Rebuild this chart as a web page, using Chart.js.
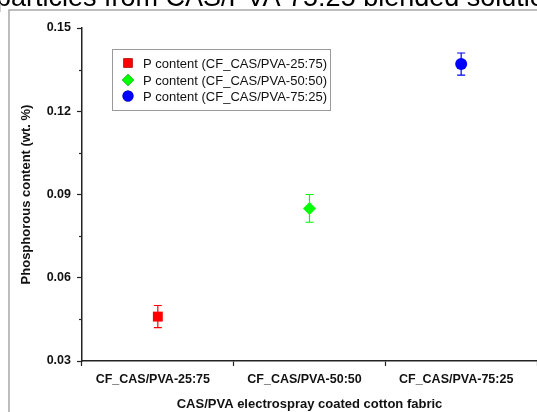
<!DOCTYPE html>
<html>
<head>
<meta charset="utf-8">
<script src="https://cdn.jsdelivr.net/npm/chart.js@4"></script>
<style>
html,body{margin:0;padding:0;background:#fff;overflow:hidden;}
#wrap{width:537px;height:412px;position:relative;}
</style>
</head>
<body>
<div id="wrap"><canvas id="c" width="537" height="412"></canvas></div>
<script>
// ---- data ----
const categories = ["CF_CAS/PVA-25:75", "CF_CAS/PVA-50:50", "CF_CAS/PVA-75:25"];
const seriesNames = ["P content (CF_CAS/PVA-25:75)", "P content (CF_CAS/PVA-50:50)", "P content (CF_CAS/PVA-75:25)"];
const pContent = [0.046, 0.085, 0.137];
const pError = [0.004, 0.005, 0.004];
const yTicks = [0.03, 0.06, 0.09, 0.12, 0.15];
const yMinorTicks = [0.045, 0.075, 0.105, 0.135];
const colors = ["#ff0000", "#00ff00", "#0000ff"];
const shapes = ["rect", "rectRot", "circle"];
const radii = [7, 6.5, 6];
const topText = "particles from CAS/PVA 75:25 blended solution";

const FONT = "'Liberation Sans', Arial, sans-serif";

const datasets = categories.map((c, i) => ({
  label: seriesNames[i],
  data: categories.map((_, j) => j === i ? pContent[i] : null),
  showLine: false,
  pointStyle: shapes[i],
  pointRadius: radii[i],
  pointHoverRadius: radii[i],
  backgroundColor: colors[i],
  borderColor: colors[i],
  borderWidth: 0,
  errors: categories.map((_, j) => j === i ? pError[i] : null)
}));

const decor = {
  id: 'decor',
  beforeDraw(chart) {
    const ctx = chart.ctx;
    ctx.save();
    // frame
    ctx.strokeStyle = '#a8a8a8';
    ctx.lineWidth = 1.5;
    ctx.beginPath();
    ctx.moveTo(9, 420);
    ctx.lineTo(9, 10);
    ctx.lineTo(560, 10);
    ctx.stroke();
    // cut-off heading text
    ctx.fillStyle = '#000';
    ctx.font = "27px " + FONT;
    ctx.textBaseline = 'alphabetic';
    ctx.textAlign = 'left';
    ctx.fillText(topText, -4, 6);
    ctx.restore();
  },
  beforeDatasetsDraw(chart) {
    const ctx = chart.ctx;
    const xs = chart.scales.x, ys = chart.scales.y;
    ctx.save();
    ctx.lineWidth = 1.2;
    chart.data.datasets.forEach(ds => {
      ds.data.forEach((v, j) => {
        if (v == null) return;
        const e = ds.errors[j];
        const x = xs.getPixelForValue(j);
        const yt = ys.getPixelForValue(v + e);
        const yb = ys.getPixelForValue(v - e);
        ctx.strokeStyle = ds.borderColor;
        ctx.beginPath();
        ctx.moveTo(x, yt); ctx.lineTo(x, yb);
        ctx.moveTo(x - 4, yt); ctx.lineTo(x + 4, yt);
        ctx.moveTo(x - 4, yb); ctx.lineTo(x + 4, yb);
        ctx.stroke();
      });
    });
    ctx.restore();
  },
  afterDraw(chart) {
    const ctx = chart.ctx;
    const ys = chart.scales.y;
    const left = chart.chartArea.left;
    ctx.save();
    // minor ticks on y axis
    ctx.strokeStyle = '#222';
    ctx.lineWidth = 1.2;
    yMinorTicks.forEach(v => {
      const y = Math.round(ys.getPixelForValue(v)) + 0.5;
      ctx.beginPath();
      ctx.moveTo(left - 3, y); ctx.lineTo(left, y);
      ctx.stroke();
    });
    // legend box
    const bx = 112.5, by = 49.5, bw = 218, bh = 61;
    ctx.strokeStyle = '#9a9a9a';
    ctx.lineWidth = 1;
    ctx.strokeRect(bx, by, bw, bh);
    const rows = [63, 80, 96];
    chart.data.datasets.forEach((ds, i) => {
      Chart.helpers.drawPoint(ctx, {
        pointStyle: ds.pointStyle, radius: ds.pointRadius - 0.5, rotation: 0, borderWidth: 0
      }, 128, rows[i]);
      ctx.fillStyle = ds.backgroundColor;
      ctx.fill();
      ctx.fillStyle = '#111';
      ctx.font = "13px " + FONT;
      ctx.textBaseline = 'middle';
      ctx.textAlign = 'left';
      ctx.fillText(ds.label, 143, rows[i] + 1);
    });
    ctx.restore();
  }
};

new Chart(document.getElementById('c'), {
  type: 'line',
  data: { labels: categories, datasets },
  options: {
    responsive: false,
    animation: false,
    events: [],
    layout: { autoPadding: false, padding: { top: 28, right: 0, left: 0, bottom: 0 } },
    plugins: { legend: { display: false }, tooltip: { enabled: false } },
    scales: {
      x: {
        type: 'category',
        offset: true,
        grid: { offset: true, drawOnChartArea: false, tickLength: 5, tickColor: '#222', tickWidth: 1.2 },
        border: { display: true, color: '#222', width: 1.5 },
        ticks: { color: '#111', font: { family: FONT, size: 12.5, weight: 'bold' }, padding: 6, maxRotation: 0, labelOffset: -5 },
        title: { display: true, text: 'CAS/PVA electrospray coated cotton fabric', color: '#111',
                 font: { family: FONT, size: 13, weight: 'bold' }, padding: { top: 2, bottom: 0 } },
        afterFit(s) { s.height = 51; }
      },
      y: {
        min: 0.03, max: 0.15,
        afterBuildTicks(s) { s.ticks = yTicks.map(v => ({ value: v })); },
        grid: { drawOnChartArea: false, tickLength: 5, tickColor: '#222', tickWidth: 1.2 },
        border: { display: true, color: '#222', width: 1.5 },
        ticks: { color: '#111', font: { family: FONT, size: 12.5, weight: 'bold' }, padding: 6,
                 callback: v => v.toFixed(2) },
        title: { display: true, text: 'Phosphorous content (wt. %)', color: '#111',
                 font: { family: FONT, size: 13, weight: 'bold' }, padding: { top: 19, bottom: 0 } },
        afterFit(s) { s.width = 82; }
      }
    }
  },
  plugins: [decor]
});
</script>
</body>
</html>
